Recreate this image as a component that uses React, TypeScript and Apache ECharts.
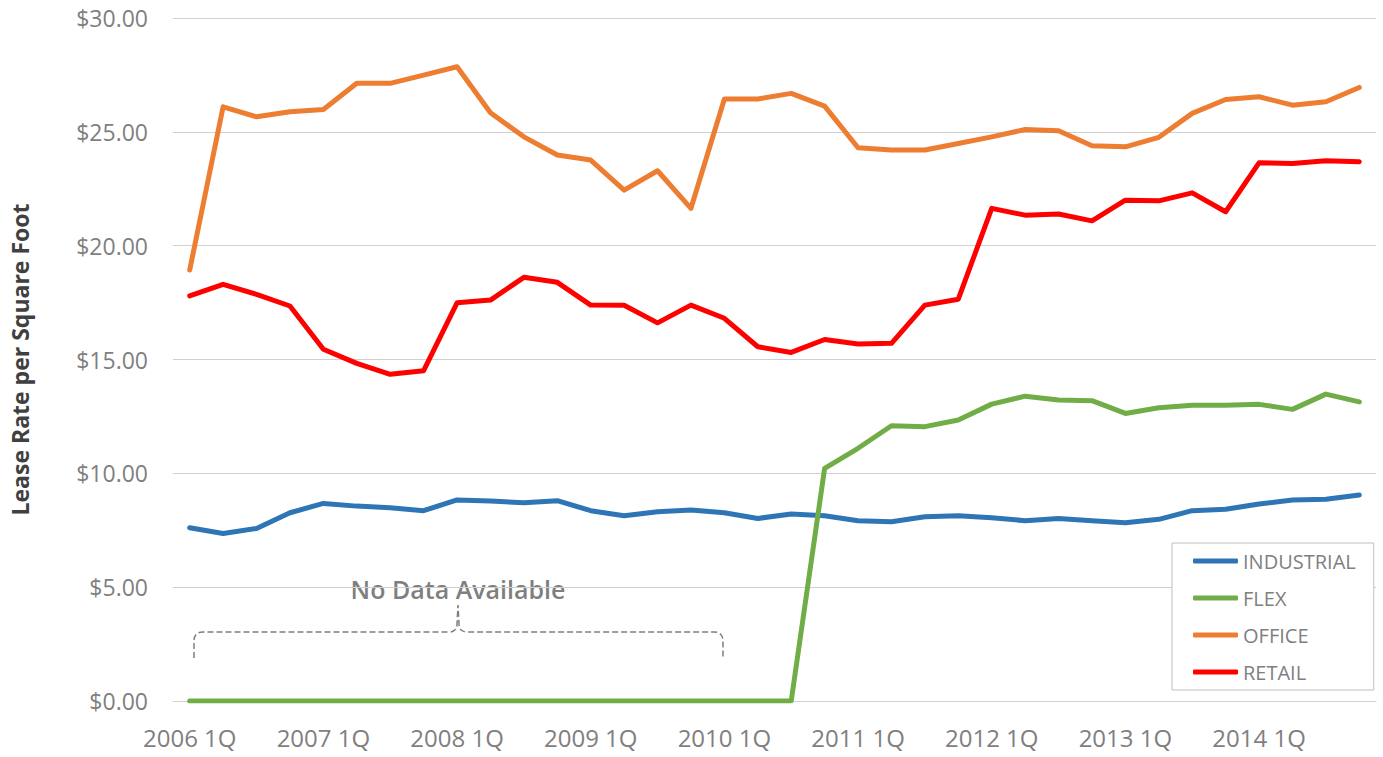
import React, { useEffect, useRef } from "react";
import * as echarts from "echarts";

const years = [2006, 2007, 2008, 2009, 2010, 2011, 2012, 2013, 2014];
const quarters = ["1Q", "2Q", "3Q", "4Q"];
const categories: string[] = [];
years.forEach((y) => quarters.forEach((q) => categories.push(`${y} ${q}`)));

const industrial = [
  7.61, 7.36, 7.58, 8.27, 8.68, 8.56, 8.49, 8.36, 8.83, 8.78, 8.71, 8.8,
  8.36, 8.14, 8.31, 8.39, 8.27, 8.02, 8.21, 8.14, 7.92, 7.87, 8.09, 8.14,
  8.05, 7.92, 8.02, 7.92, 7.83, 7.98, 8.36, 8.42, 8.65, 8.83, 8.86, 9.05,
];
const flex = [
  0, 0, 0, 0, 0, 0, 0, 0, 0, 0, 0, 0,
  0, 0, 0, 0, 0, 0, 0, 10.22, 11.1, 12.09, 12.05, 12.34,
  13.04, 13.39, 13.22, 13.19, 12.63, 12.88, 12.99, 12.99, 13.03, 12.81, 13.48, 13.14,
];
const office = [
  18.93, 26.1, 25.66, 25.88, 25.98, 27.13, 27.13, 27.49, 27.86, 25.84, 24.78, 23.98,
  23.76, 22.44, 23.29, 21.64, 26.44, 26.44, 26.69, 26.13, 24.3, 24.2, 24.2, 24.49,
  24.78, 25.1, 25.05, 24.39, 24.34, 24.76, 25.81, 26.42, 26.54, 26.17, 26.32, 26.95,
];
const retail = [
  17.79, 18.3, 17.86, 17.35, 15.45, 14.83, 14.35, 14.51, 17.49, 17.61, 18.61, 18.39,
  17.39, 17.38, 16.61, 17.39, 16.81, 15.56, 15.31, 15.88, 15.68, 15.71, 17.39, 17.65,
  21.64, 21.34, 21.39, 21.09, 22.0, 21.97, 22.32, 21.49, 23.64, 23.61, 23.73, 23.69,
];

const seriesNames = ["INDUSTRIAL", "FLEX", "OFFICE", "RETAIL"];
const seriesData = [industrial, flex, office, retail];
const seriesColors = ["#2E75B6", "#70AD47", "#ED7D31", "#FF0000"];

const FONT = '"Open Sans", "Noto Sans", sans-serif';
const GRAY = "#7f7f7f";

echarts.graphic.registerShape(
  "bracket",
  echarts.graphic.extendPath(
    "M194,658 L194,641 Q194,632 203,632 L449,632 Q457,632 457,624 L458,605 L459,624 Q459,632 467,632 L714,632 Q723,632 723,641 L723,658",
    {}
  )
);

export default function App() {
  const ref = useRef<HTMLDivElement>(null);
  useEffect(() => {
    document.body.style.margin = "0";
    const chart = echarts.init(ref.current!, null, { renderer: "svg" });
    chart.setOption({
      animation: false,
      backgroundColor: "#ffffff",
      grid: { left: 169, right: 7, top: 18, bottom: 56, containLabel: false },
      xAxis: {
        type: "category",
        data: categories,
        boundaryGap: true,
        axisLine: { show: true, lineStyle: { color: "#d0d0d0", width: 1 } },
        axisTick: { show: false },
        axisLabel: {
          interval: 3,
          fontFamily: FONT,
          fontSize: 24,
          color: GRAY,
          margin: 24,
        },
        splitLine: { show: false },
      },
      yAxis: {
        type: "value",
        min: 0,
        max: 30,
        interval: 5,
        name: "Lease Rate per Square Foot",
        nameLocation: "middle",
        nameGap: 142,
        nameTextStyle: {
          fontFamily: FONT,
          fontSize: 23,
          fontWeight: "bold",
          color: "#404040",
        },
        axisLine: { show: false },
        axisTick: { show: false },
        axisLabel: {
          fontFamily: FONT,
          fontSize: 23,
          color: GRAY,
          margin: 25,
          formatter: (v: number) => `$${v.toFixed(2)}`,
        },
        splitLine: { show: true, lineStyle: { color: "#d0d0d0", width: 1 } },
      },
      legend: {
        orient: "vertical",
        left: 1172,
        top: 543,
        data: seriesNames,
        icon: "roundRect",
        itemWidth: 45,
        itemHeight: 5,
        itemGap: 15,
        padding: [7, 18, 7, 21],
        backgroundColor: "#ffffff",
        borderColor: "#bfbfbf",
        borderWidth: 1,
        borderRadius: 0,
        textStyle: {
          fontFamily: FONT,
          fontSize: 20,
          lineHeight: 22,
          color: GRAY,
        },
      },
      graphic: [
        {
          type: "text",
          x: 458,
          y: 589,
          silent: true,
          style: {
            text: "No Data Available",
            fontFamily: FONT,
            fontSize: 25,
            fontWeight: 600,
            fill: GRAY,
            align: "center",
            verticalAlign: "middle",
          },
        },
        {
          type: "bracket",
          x: 0,
          y: 0,
          silent: true,
          style: {
            fill: null,
            stroke: GRAY,
            lineWidth: 1.5,
            lineDash: [6, 3],
          },
        },
      ],
      series: seriesNames.map((name, i) => ({
        name,
        type: "line",
        data: seriesData[i],
        symbol: "none",
        showSymbol: false,
        color: seriesColors[i],
        lineStyle: {
          width: 5,
          color: seriesColors[i],
          cap: "round",
          join: "round",
        },
      })),
    });
    return () => chart.dispose();
  }, []);
  return <div ref={ref} style={{ width: 1383, height: 757 }} />;
}
